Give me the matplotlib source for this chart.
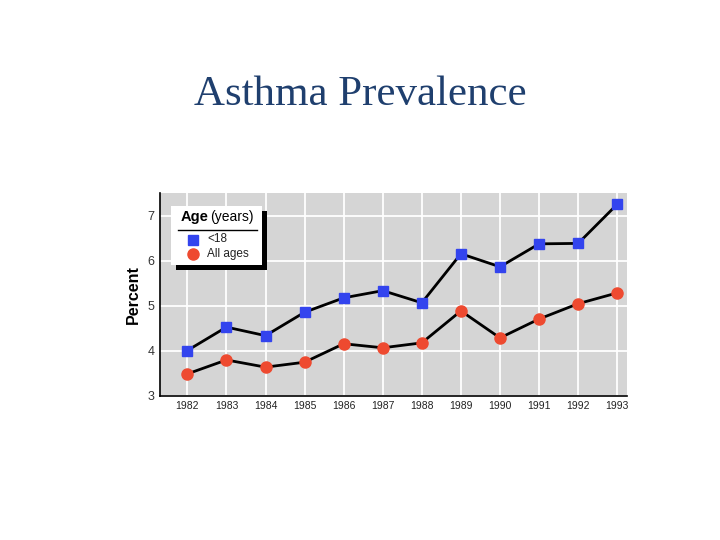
import matplotlib
matplotlib.use("Agg")
import matplotlib.pyplot as plt
from matplotlib import font_manager
from matplotlib.patches import Rectangle
from matplotlib.lines import Line2D

years = [1982, 1983, 1984, 1985, 1986, 1987, 1988, 1989, 1990, 1991, 1992, 1993]
under18 = [4.00, 4.52, 4.33, 4.85, 5.17, 5.33, 5.06, 6.15, 5.86, 6.37, 6.38, 7.25]
all_ages = [3.48, 3.79, 3.63, 3.74, 4.15, 4.06, 4.17, 4.88, 4.28, 4.70, 5.04, 5.28]
yticks = [3, 4, 5, 6, 7]
title = "Asthma Prevalence"
ylabel = "Percent"
legend_labels = ["<18", "All ages"]

names = {f.name for f in font_manager.fontManager.ttflist}
narrow = "Liberation Sans Narrow" if "Liberation Sans Narrow" in names else "Liberation Sans"

W, H = 720, 540
fig = plt.figure(figsize=(7.2, 5.4), dpi=100)
fig.patch.set_facecolor("white")

def fx(px):
    return px / W

def fy(py):
    return 1 - py / H

ax = fig.add_axes([fx(160), fy(395.5), fx(627) - fx(160), fy(193) - fy(395.5)])
ax.set_facecolor("#d5d5d5")
ax.set_xlim(1981.3, 1993.25)
ax.set_ylim(3, 7.5)
ax.set_xticks(years)
ax.set_yticks(yticks)
ax.grid(True, color="white", linewidth=1.3)
ax.set_axisbelow(True)
for s in ["top", "right"]:
    ax.spines[s].set_visible(False)
ax.spines["left"].set_color("black")
ax.spines["bottom"].set_color("black")
ax.spines["left"].set_linewidth(1.2)
ax.spines["bottom"].set_linewidth(1.2)
ax.tick_params(axis="x", length=0, pad=4)
ax.tick_params(axis="y", length=0, pad=4)
for lab in ax.get_xticklabels():
    lab.set_fontfamily(narrow)
    lab.set_fontsize(7.5)
    lab.set_color("#222222")
for lab in ax.get_yticklabels():
    lab.set_fontfamily(narrow)
    lab.set_fontsize(9)
    lab.set_color("#333333")

ax.plot(years, under18, color="black", linewidth=2, marker="s", markersize=7,
        markerfacecolor="#3344ee", markeredgecolor="#3344ee", zorder=3)
ax.plot(years, all_ages, color="black", linewidth=2, marker="o", markersize=8,
        markerfacecolor="#ee4a30", markeredgecolor="#ee4a30", zorder=3)

ax.set_ylabel(ylabel, fontfamily=narrow, fontweight="bold", fontsize=11.5, labelpad=5)

fig.text(0.5, fy(95), title, ha="center", va="center", fontfamily="Liberation Serif",
         fontsize=31, color="#1f3f6e")

# legend box with shadow
fig.patches.append(Rectangle((fx(176), fy(270)), fx(91), fy(206) - fy(265),
                             transform=fig.transFigure, facecolor="black", edgecolor="none", zorder=5))
fig.patches.append(Rectangle((fx(171), fy(265)), fx(91), fy(206) - fy(265),
                             transform=fig.transFigure, facecolor="white", edgecolor="none", zorder=6))
fig.text(fx(181), fy(217), "Age", fontfamily=narrow, fontweight="bold", fontsize=10.5,
         va="center", ha="left", zorder=7)
fig.text(fx(210), fy(217), "(years)", fontfamily=narrow, fontsize=10,
         va="center", ha="left", zorder=7)
fig.lines.append(Line2D([fx(178), fx(257)], [fy(230), fy(230)], transform=fig.transFigure,
                        color="black", linewidth=1, zorder=7))
fig.lines.append(Line2D([fx(192.5)], [fy(240)], transform=fig.transFigure, marker="s",
                        markersize=7, color="#3344ee", linestyle="none", zorder=7))
fig.lines.append(Line2D([fx(192.5)], [fy(253.5)], transform=fig.transFigure, marker="o",
                        markersize=8, color="#ee4a30", linestyle="none", zorder=7))
fig.text(fx(207), fy(239), legend_labels[0], fontfamily=narrow, fontsize=8.5,
         va="center", ha="left", color="#222222", zorder=7)
fig.text(fx(207), fy(253.5), legend_labels[1], fontfamily=narrow, fontsize=8.5,
         va="center", ha="left", color="#222222", zorder=7)

fig.savefig("out.png", dpi=100)
